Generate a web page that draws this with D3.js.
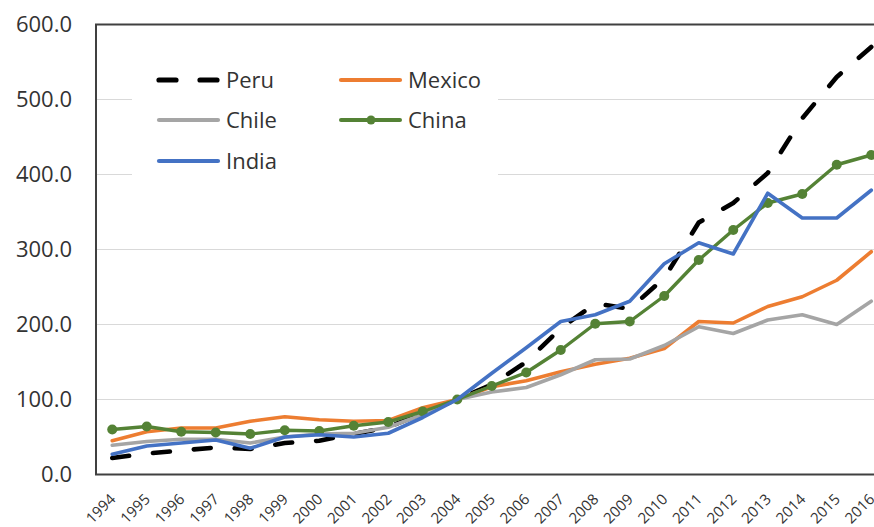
<!DOCTYPE html>
<html>
<head>
<meta charset="utf-8">
<script src="https://cdn.jsdelivr.net/npm/d3@7"></script>
<style>
body{margin:0;background:#fff}
text{font-family:"Open Sans",sans-serif;fill:#333}
</style>
</head>
<body>
<div id="chart"></div>
<script>
const years=['1994','1995','1996','1997','1998','1999','2000','2001','2002','2003','2004','2005','2006','2007','2008','2009','2010','2011','2012','2013','2014','2015','2016'];
const yTicks=[0,100,200,300,400,500,600];
const peru=[22,28,32,36,34,42,45,54,63,82,100,120,150,195,228,221,262,336,362,402,475,530,570];
const mexico=[45,57,62,62,71,77,73,71,72,89,100,117,125,137,147,155,168,204,202,224,237,259,297];
const chile=[39,44,47,47,42,50,54,55,63,80,100,110,116,133,153,154,172,197,188,206,213,200,231];
const china=[60,64,57,56,54,59,58,65,70,84,100,118,136,166,201,204,238,286,326,362,374,413,426];
const india=[27,38,42,46,35,50,53,50,55,76,100,135,169,204,213,231,281,309,294,375,342,342,379];
const series=[
  {name:'Peru',vals:peru,color:'#000',dash:'17 24',w:4.6},
  {name:'Mexico',vals:mexico,color:'#ED7D31',w:3.6},
  {name:'Chile',vals:chile,color:'#A5A5A5',w:3.6},
  {name:'China',vals:china,color:'#548235',w:3.4,marker:true},
  {name:'India',vals:india,color:'#4472C4',w:3.6}
];
const W=874,H=527,m={l:96,t:24.5,b:474.5,r:889.5};
const svg=d3.select('#chart').append('svg').attr('width',W).attr('height',H);
const x=d3.scalePoint().domain(years).range([m.l-1,m.r-1]).padding(0.5);
const y=d3.scaleLinear().domain([0,600]).range([m.b,m.t]);

// gridlines
svg.append('g').selectAll('line').data(yTicks.filter(d=>d>0&&d<600)).join('line')
  .attr('x1',m.l).attr('x2',W).attr('y1',d=>y(d)).attr('y2',d=>y(d))
  .attr('stroke','#d9d9d9').attr('stroke-width',1.2);

// legend background hides the gridlines behind it
svg.append('rect').attr('x',132).attr('y',55).attr('width',366).attr('height',130).attr('fill','#fff');

// y labels
const yAxis=d3.axisLeft(y).tickValues(yTicks).tickFormat(d3.format('.1f')).tickSize(0).tickPadding(24);
const gy=svg.append('g').attr('transform',`translate(${m.l},0)`).call(yAxis);
gy.select('.domain').remove();
gy.selectAll('text').attr('font-size',22).attr('font-family','"Open Sans",sans-serif').attr('fill','#333');

// x labels
const gx=svg.append('g').attr('transform',`translate(0,${m.b})`)
  .call(d3.axisBottom(x).tickSize(0).tickFormat(d=>d));
gx.select('.domain').remove();
gx.selectAll('text').attr('font-size',15).attr('font-family','"Open Sans",sans-serif').attr('fill','#333')
  .attr('text-anchor','end').attr('dy','0.35em').attr('y',0)
  .attr('transform','translate(0,22) rotate(-45)');

// lines
const line=d3.line().x((d,i)=>x(years[i])).y(d=>y(d));
series.forEach(s=>{
  svg.append('path').datum(s.vals).attr('fill','none').attr('stroke',s.color)
    .attr('stroke-width',s.w).attr('stroke-linejoin','round')
    .attr('stroke-linecap','round').attr('stroke-dasharray',s.dash||null).attr('d',line);
  if(s.marker){
    svg.append('g').selectAll('circle').data(s.vals).join('circle')
      .attr('cx',(d,i)=>x(years[i])).attr('cy',d=>y(d)).attr('r',5).attr('fill',s.color);
  }
});

// plot border (left, top, bottom)
svg.append('path').attr('d',`M${W},${m.t}H${m.l}V${m.b}H${W}`).attr('fill','none')
  .attr('stroke','#404040').attr('stroke-width',2);

// legend
const leg=[{s:series[0],x:157,y:80},{s:series[1],x:339,y:80},{s:series[2],x:157,y:120},{s:series[3],x:339,y:120},{s:series[4],x:157,y:161}];
leg.forEach(l=>{
  const g=svg.append('g');
  g.append('line').attr('x1',l.x+2).attr('x2',l.x+61).attr('y1',l.y).attr('y2',l.y)
    .attr('stroke',l.s.color).attr('stroke-width',l.s.w+0.6).attr('stroke-linecap','round')
    .attr('stroke-dasharray',l.s.dash?'17 24':null);
  if(l.s.marker)g.append('circle').attr('cx',l.x+32).attr('cy',l.y).attr('r',4.5).attr('fill',l.s.color);
  g.append('text').attr('x',l.x+69).attr('y',l.y).attr('dy','0.35em').attr('font-size',22).text(l.s.name);
});
</script>
</body>
</html>
